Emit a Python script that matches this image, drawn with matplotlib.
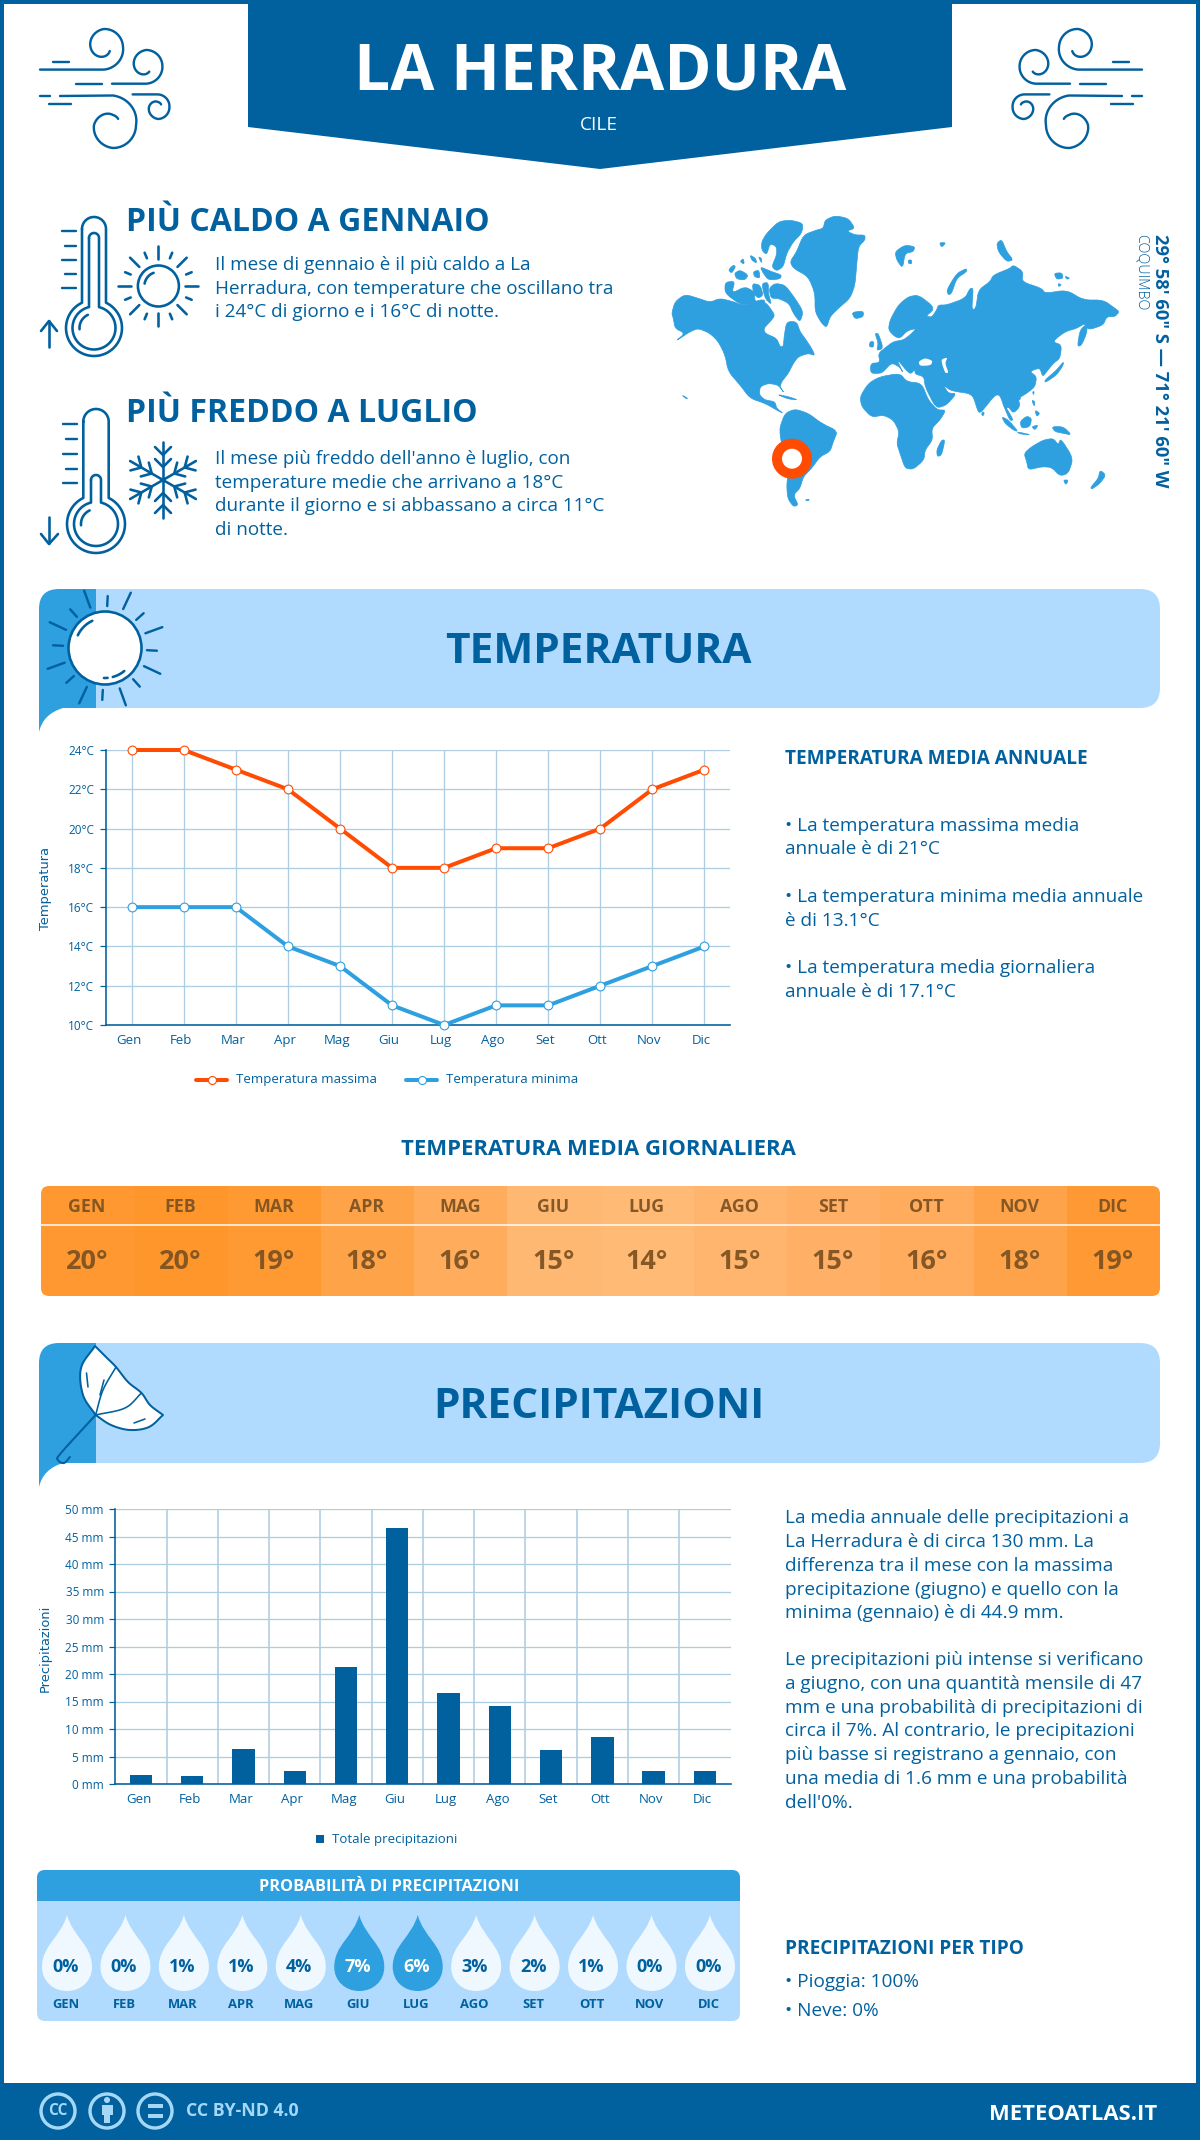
import numpy as np
import matplotlib
matplotlib.use("Agg")
import matplotlib.pyplot as plt
from matplotlib.path import Path
from matplotlib.patches import PathPatch, Polygon, Rectangle, FancyBboxPatch, Circle
from matplotlib.transforms import ScaledTranslation

# ---------- data ----------
months = ["Gen","Feb","Mar","Apr","Mag","Giu","Lug","Ago","Set","Ott","Nov","Dic"]
temp_max = [24,24,23,22,20,18,18,19,19,20,22,23]
temp_min = [16,16,16,14,13,11,10,11,11,12,13,14]
temp_avg = [20,20,19,18,16,15,14,15,15,16,18,19]
temp_ticks = [10,12,14,16,18,20,22,24]
precip = [1.6,1.5,6.4,2.4,21.3,46.5,16.6,14.2,6.2,8.6,2.4,2.4]
precip_ticks = [0,5,10,15,20,25,30,35,40,45,50]
prob = [0,0,1,1,4,7,6,3,2,1,0,0]
heat_colors = ["#FF9830","#FF962C","#FF9A33","#FFA348","#FFAD5C","#FFB871",
               "#FFBA75","#FFB56D","#FFB066","#FFAC5E","#FFA34A","#FF9933"]

DARK = "#01609E"; MID = "#2E9FDF"; LIGHT = "#B0DBFF"; OR = "#FF4C02"; GRID = "#AECCE2"
FONT = "Open Sans"
plt.rcParams["font.family"] = [FONT, "DejaVu Sans"]

W, H = 1200, 2140
fig = plt.figure(figsize=(W/100, H/100), dpi=100, facecolor="white")
bg = fig.add_axes([0,0,1,1]); bg.set_xlim(0,W); bg.set_ylim(H,0); bg.axis("off")
P = lambda px: px*0.72

def T(x,y,s,px,weight="normal",color=DARK,ha="left",va="baseline",**kw):
    return bg.text(x,y,s,fontsize=P(px),fontweight=weight,color=color,ha=ha,va=va,**kw)

def smooth(pts,n=14):
    p=np.array(pts,float)
    q=np.vstack([2*p[0]-p[1],p,2*p[-1]-p[-2]])
    out=[]
    for i in range(1,len(q)-2):
        for t in np.linspace(0,1,n,endpoint=False):
            a,b,c,d=q[i-1],q[i],q[i+1],q[i+2]
            out.append(0.5*((2*b)+(-a+c)*t+(2*a-5*b+4*c-d)*t**2+(-a+3*b-3*c+d)*t**3))
    out.append(q[-2]); return np.array(out)
def chaikin(pts,it=2):
    p=np.array(pts,float)
    for _ in range(it):
        n=np.roll(p,-1,axis=0)
        p=np.column_stack([0.8*p+0.2*n,0.2*p+0.8*n]).reshape(-1,2)
    return p
def L(xy,lw=2.6,color=DARK,**kw):
    xy=np.array(xy); bg.plot(xy[:,0],xy[:,1],color=color,lw=P(lw),solid_capstyle="round",solid_joinstyle="round",**kw)
def arc(cx,cy,r,a0,a1,n=60):
    a=np.radians(np.linspace(a0,a1,n)); return np.c_[cx+r*np.cos(a),cy+r*np.sin(a)]
def spiral(cx,cy,angs,rads,n=120):
    a=np.linspace(angs[0],angs[-1],n); r=np.interp(a,angs,rads) if angs[0]<angs[-1] else np.interp(-a,[-v for v in angs],rads)
    t=np.radians(a); return np.c_[cx+r*np.cos(t),cy+r*np.sin(t)]

# ---------- frame / header ----------
bg.add_patch(Rectangle((0,0),W,H,fc="white",ec="none"))
for r in [(0,0,W,4),(0,0,4,H),(W-4,0,4,H)]:
    bg.add_patch(Rectangle(r[:2],r[2],r[3],fc=DARK,ec="none"))
bg.add_patch(Polygon([(248,0),(952,0),(952,127),(600,169),(248,127)],fc=DARK,ec="none"))
T(600,89,"LA HERRADURA",64,"bold","white",ha="center")
T(599,130,"CILE",19,"normal","white",ha="center")
bg.add_patch(Rectangle((0,2083),W,57,fc=DARK,ec="none"))

# ---------- wind icons ----------
wind=[
 np.vstack([[(40,69.6)],spiral(104,47,[90,0,-90,-180,-270,-325],[22.6,19,18,13.5,9.5,7])]),
 np.vstack([[(112,83.7)],spiral(146,66,[90,0,-90,-180,-270,-300],[17.7,16.4,16,12,8,6.5])]),
 np.vstack([[(60,96)],spiral(113,125,[-90,0,90,180,270,310],[29.5,23,23,19,10,8])]),
 np.vstack([[(132.6,94.4)],spiral(158,107,[-90,0,90,180,270,320],[12.6,11.4,12,9,5,4])]),
]
dashes=[[(53,62),(69,62)],[(76,83.7),(102,83.7)],[(40,96),(50,96)],[(49,104.4),(71,104.4)]]
for mirror in (False,True):
    for c in wind+dashes:
        s=np.array(c)
        if mirror: s=np.c_[1182-s[:,0],s[:,1]]
        L(s,2.4)

# ---------- thermometers ----------
def thermo(cx,cy,R,hw,top,ri,hwi,topi):
    a=np.degrees(np.arcsin(hw/R))
    o=np.vstack([arc(cx,top+hw,hw,180,360),arc(cx,cy,R,-90+a,270-a)])
    L(np.vstack([o,o[0]]),2.6)
    a=np.degrees(np.arcsin(hwi/ri))
    o=np.vstack([arc(cx,topi+hwi,hwi,180,360),arc(cx,cy,ri,-90+a,270-a)])
    L(np.vstack([o,o[0]]),2.6)
    L(arc(cx,cy,ri-7,175,245,20),2.6)
thermo(94,328,28,12,217,21.5,5,233)
thermo(96,524,29,12.7,409,22,5,475)
for i,y in enumerate([231,245.5,260,274,288]):
    L([(62 if i%2==0 else 65,y),(75.5,y)],2.4)
for i,y in enumerate([424,439,454,468.5,483]):
    L([(63 if i%2==0 else 66,y),(77,y)],2.4)
L([(49,347),(49,321)]); L([(41,331),(49,321),(57,331)])
L([(49,517),(49,543)]); L([(41,534),(49,544),(58,534)])

# small sun
cx,cy=158.4,286
bg.add_patch(Circle((cx,cy),20.5,fc="none",ec=DARK,lw=P(2.6)))
L(arc(cx,cy,14,190,250,20))
for k in range(16):
    a=np.radians(k*22.5)
    r0,r1=(27,40) if k%2==0 else (30,36)
    L([(cx+r0*np.cos(a),cy+r0*np.sin(a)),(cx+r1*np.cos(a),cy+r1*np.sin(a))])

# snowflake
cx,cy=163,480
c0=np.array([cx,cy])
for k in range(6):
    a=np.radians(90+k*60); u=np.array([np.cos(a),np.sin(a)]); v=np.array([-u[1],u[0]])
    L([c0,c0+38*u])
    for d,w in [(13,8),(25,8)]:
        L([c0+(d+w)*u+w*v,c0+d*u,c0+(d+w)*u-w*v])

T(126.5,231,"PIÙ CALDO A GENNAIO",32,"bold")
T(126.5,422,"PIÙ FREDDO A LUGLIO",32,"bold")
body1=["Il mese di gennaio è il più caldo a La","Herradura, con temperature che oscillano tra","i 24°C di giorno e i 16°C di notte."]
for y,s in zip([270,293.5,317],body1): T(215,y,s,18.85)
body2=["Il mese più freddo dell'anno è luglio, con","temperature medie che arrivano a 18°C","durante il giorno e si abbassano a circa 11°C","di notte."]
for y,s in zip([464,487.5,511,535],body2): T(215,y,s,18.85)

# ---------- world map ----------
west=[
 [(20,325),(30,290),(60,268),(100,280),(135,292),(165,280),(205,290),(230,300),(265,300),(290,290),(305,295),(330,330),(320,345),(296,370),(300,385),(335,400),(345,425),(355,425),(358,390),(365,350),(395,350),(405,380),(420,400),(440,430),(450,452),(430,445),(400,455),(385,475),(370,505),(350,530),(345,545),(358,565),(340,540),(310,535),(285,545),(283,570),(300,585),(330,590),(335,610),(355,625),(340,618),(300,595),(255,580),(225,540),(190,500),(180,450),(160,410),(135,385),(100,370),(75,380),(30,410),(60,385),(30,370),(25,340)],
 [(305,85),(340,50),(375,45),(415,55),(410,85),(385,110),(365,145),(355,185),(335,198),(320,185),(335,150),(335,125),(315,115),(305,150),(290,135),(290,110)],
 [(375,170),(395,140),(415,90),(455,75),(475,70),(480,45),(510,32),(550,40),(570,70),(545,78),(570,90),(600,90),(600,105),(580,125),(575,180),(570,240),(555,280),(520,310),(495,335),(485,368),(470,355),(450,320),(450,265),(430,215),(385,190)],
 [(560,322),(595,318),(595,335),(570,342)],
 [(190,195),(205,180),(212,185),(200,205)],
 [(208,205),(225,195),(250,210),(240,225),(215,222)],
 [(255,150),(272,160),(275,175),(260,165)],
 [(225,170),(235,160),(238,178)],
 [(280,155),(290,160),(290,175)],
 [(265,200),(282,195),(285,220),(268,215)],
 [(285,185),(320,200),(350,210),(345,222),(310,225),(295,205)],
 [(180,232),(210,228),(200,265),(240,245),(268,260),(270,290),(285,285),(300,285),(295,305),(260,300),(225,298),(180,265)],
 [(262,235),(285,240),(295,270),(280,280),(265,265)],
 [(290,235),(310,232),(310,265),(320,300),(300,280)],
 [(312,250),(330,235),(360,240),(390,280),(415,320),(405,352),(385,325),(372,295),(340,280),(318,280)],
 [(345,665),(360,625),(390,612),(430,625),(470,655),(518,678),(505,710),(495,740),(465,755),(440,790),(415,815),(405,850),(385,870),(400,900),(385,905),(368,880),(365,840),(370,800),(360,770),(345,690)],
 [(420,885),(433,882),(430,888)],
 [(335,568),(370,575),(400,585),(370,582)],
 [(50,570),(68,580),(65,582)],
]
east=[
 [(62,400),(90,398),(85,370),(110,350),(130,335),(160,330),(180,315),(200,295),(172,302),(150,325),(135,320),(115,300),(120,270),(145,225),(175,200),(205,195),(245,225),(250,240),(228,258),(245,262),(260,240),(265,225),(290,225),(345,205),(360,175),(370,175),(365,240),(378,235),(385,180),(420,155),(430,135),(480,115),(490,105),(520,125),(515,155),(575,175),(585,190),(650,180),(700,210),(760,210),(795,235),(808,245),(795,260),(770,260),(760,285),(715,300),(705,280),(680,295),(645,305),(607,335),(635,345),(630,385),(610,400),(590,425),(578,440),(570,415),(555,418),(540,425),(560,440),(555,470),(530,490),(505,505),(510,530),(490,550),(475,530),(465,540),(450,495),(435,495),(395,545),(385,548),(370,500),(355,490),(320,485),(300,480),(280,465),(295,490),(320,490),(290,525),(258,535),(225,470),(222,440),(195,432),(195,418),(182,432),(168,420),(148,395),(142,392),(160,430),(150,412),(125,398),(100,425),(90,430),(62,430)],
 [(30,500),(55,460),(90,440),(150,430),(170,455),(215,460),(235,510),(262,540),(288,540),(270,570),(245,595),(248,630),(225,660),(222,690),(190,718),(165,715),(150,670),(140,640),(148,605),(130,570),(100,555),(65,562),(35,530)],
 [(275,630),(285,630),(275,675),(262,680),(260,660)],
 [(75,310),(85,310),(100,355),(80,362),(85,340)],
 [(60,335),(72,335),(70,352),(58,350)],
 [(135,65),(165,45),(195,50),(190,65),(165,70),(158,115),(140,90)],
 [(175,90),(185,90),(185,102),(175,100)],
 [(268,38),(288,38),(275,52)],
 [(440,40),(455,28),(470,65),(490,90),(470,95),(445,65)],
 [(612,130),(635,128),(640,145),(620,148)],
 [(645,138),(660,145),(650,148)],
 [(625,160),(635,165),(625,170)],
 [(290,180),(320,130),(350,115),(350,125),(320,145),(305,190),(295,195)],
 [(712,280),(690,300),(682,350),(695,345),(710,310)],
 [(640,395),(620,420),(585,450),(585,458),(620,435),(640,405)],
 [(455,560),(475,570),(505,605),(490,600),(465,580)],
 [(500,605),(545,615),(510,612)],
 [(510,575),(530,558),(545,565),(540,590),(515,595)],
 [(545,590),(565,585),(555,600)],
 [(605,590),(640,590),(665,615),(640,610),(615,605)],
 [(545,510),(555,515),(553,530)],
 [(555,540),(570,550),(560,560)],
 [(397,545),(403,548),(400,557),(395,555)],
 [(462,530),(470,535),(490,570),(480,572)],
 [(548,485),(553,485),(550,495)],
 [(505,503),(512,505),(508,510)],
 [(522,670),(545,650),(580,630),(610,625),(625,645),(632,625),(670,685),(655,730),(630,738),(605,712),(575,710),(535,720),(530,695)],
 [(640,750),(655,750),(648,765)],
 [(750,720),(768,735),(750,760),(725,778),(722,772),(745,745)],
]
seas=[
 [(205,395),(225,384),(248,392),(243,406),(210,408)],
 [(274,388),(293,382),(285,400),(296,428),(286,430),(277,405)],
]
for l in west:
    bg.add_patch(Polygon(chaikin([(665+x/3,205+y/3) for x,y in l]),fc=MID,ec=MID,lw=0.5))
for l in east:
    bg.add_patch(Polygon(chaikin([(850+x/3,230+y/3) for x,y in l]),fc=MID,ec=MID,lw=0.5))
for l in seas:
    bg.add_patch(Polygon(chaikin([(850+x/3,230+y/3) for x,y in l]),fc="white",ec="none"))
bg.add_patch(Circle((792,458.7),15,fc="white",ec=OR,lw=P(10)))
T(1160,234.5,"29° 58' 60\" S — 71° 21' 60\" W",18.4,"bold",ha="center",va="top",rotation=-90)
T(1141,234.5,"COQUIMBO",14.3,"light",ha="center",va="top",rotation=-90)

# ---------- banners ----------
def banner(y0,y1,tail):
    x0,x1,xt,r=39,1160,96,20
    verts=[(xt,y0),(x1-r,y0),(x1,y0),(x1,y0+r),(x1,y1-r),(x1,y1),(x1-r,y1),(xt,y1),(xt,y0)]
    codes=[1,2,3,3,2,3,3,2,2]
    bg.add_patch(PathPatch(Path(verts,codes),fc=LIGHT,ec="none"))
    verts=[(xt,y0),(x0+r,y0),(x0,y0),(x0,y0+r),(x0,tail),(x0+4,y1+6),(x0+24,y1),(xt,y1),(xt,y0)]
    codes=[1,2,3,3,2,3,3,2,2]
    bg.add_patch(PathPatch(Path(verts,codes),fc=MID,ec="none"))
banner(589,708,732); banner(1343,1463,1487)
T(598,663,"TEMPERATURA",42.4,"bold",ha="center")
T(599,1418,"PRECIPITAZIONI",42.4,"bold",ha="center")

# big sun
cx,cy=105,648
bg.add_patch(Circle((cx,cy),36.5,fc="white",ec=DARK,lw=P(2.6),zorder=5))
L(arc(cx,cy,30,205,245,12),2.6,zorder=6); L(arc(cx,cy,30,50,75,10),2.6,zorder=6); L(arc(cx,cy,30,85,92,4),2.6,zorder=6)
for k in range(8):
    a=np.radians(-90+25+45*k); b=np.radians(-90+3+45*k)
    L([(cx+43*np.cos(a),cy+43*np.sin(a)),(cx+61*np.cos(a),cy+61*np.sin(a))],2.4,zorder=6)
    L([(cx+42*np.cos(b),cy+42*np.sin(b)),(cx+52*np.cos(b),cy+52*np.sin(b))],2.4,zorder=6)

# umbrella
right_edge=smooth([(95,1346),(107,1358),(116,1367),(128,1382),(141.5,1393),(150,1405),(163,1415)],6)
bottom=smooth([(163,1415),(149,1427),(130,1430),(111,1425),(95.6,1415)],8)
left=smooth([(95.6,1415),(83,1395),(81,1368),(95,1346)],8)
bg.add_patch(Polygon(np.vstack([right_edge,bottom,left]),fc="white",ec=DARK,lw=P(2),joinstyle="round"))
L(smooth([(116,1367),(103,1390),(95.6,1415)]),1.6)
L(smooth([(141.5,1393),(125,1408),(95.6,1415)]),1.6)
L(smooth([(95.6,1415),(61,1453),(58,1460),(64,1463),(70,1457)]),2)
L([(86.5,1373),(88,1387)],1.6); L([(134,1423),(145,1419)],1.6); L([(100,1395),(104,1380)],1.6)

# ---------- charts ----------
def chart_ax(l,t,r,b):
    ax=fig.add_axes([l/W,1-b/H,(r-l)/W,(b-t)/H]); ax.patch.set_alpha(0)
    for s in ("top","right"): ax.spines[s].set_visible(False)
    for s in ("left","bottom"): ax.spines[s].set_color(DARK); ax.spines[s].set_linewidth(P(1.6))
    ax.tick_params(axis="y",length=P(6.5),width=P(1.2),color=DARK,labelcolor=DARK,labelsize=P(11.8),pad=P(5))
    ax.tick_params(axis="x",length=0,labelcolor=DARK,labelsize=P(13.3),pad=P(9))
    ax.set_axisbelow(True); ax.grid(True,color=GRID,lw=P(1.3))
    return ax
def shift_x(ax,dx):
    for lab in ax.get_xticklabels():
        lab.set_transform(lab.get_transform()+ScaledTranslation(dx/100,0,fig.dpi_scale_trans))
ax=chart_ax(105.7,750,730.5,1025)
x=np.arange(12)
ax.set_xlim(-.5,11.5); ax.set_ylim(10,24)
ax.set_yticks(temp_ticks); ax.set_yticklabels([f"{v}°C" for v in temp_ticks])
ax.set_xticks(x); ax.set_xticklabels(months); shift_x(ax,-3)
mk=dict(marker="o",ms=P(8.8),mfc="white",mew=P(1.1),lw=P(4),clip_on=False,solid_joinstyle="round")
ax.plot(x,temp_max,color=OR,mec=OR,zorder=4,**mk)
ax.plot(x,temp_min,color=MID,mec=MID,zorder=4,**mk)
T(45,889,"Temperatura",13,family="DejaVu Sans",ha="center",va="center",rotation=90)
for x0,x1,c,tx,s in [(196,227,OR,236,"Temperatura massima"),(406,437,MID,446,"Temperatura minima")]:
    L([(x0,1080),(x1,1080)],4,c)
    bg.plot([(x0+x1)/2],[1080],marker="o",ms=P(8),mfc="white",mec=c,mew=P(1.1))
    T(tx,1080,s,13.3,va="center")

# ---------- daily table ----------
x0,x1,y0,y1=41,1160,1186,1296; cw=(x1-x0)/12
clip=FancyBboxPatch((x0+6,y0+6),x1-x0-12,y1-y0-12,boxstyle="round,pad=6,rounding_size=8",fc="none",ec="none")
bg.add_patch(clip)
for i,(m,v,c) in enumerate(zip(months,temp_avg,heat_colors)):
    r=Rectangle((x0+i*cw,y0),cw+0.5,y1-y0,fc=c,ec="none"); bg.add_patch(r); r.set_clip_path(clip)
    T(x0+(i+.5)*cw-.5,1207,m.upper(),17.8,"bold","#7F5322",ha="center",va="center",alpha=.95)
    T(x0+(i+.5)*cw-.5,1262,f"{v}°",27,"bold","#7F5322",ha="center",va="center",alpha=.95)
L([(x0,1225),(x1,1225)],1.5,"white")
T(598,1155,"TEMPERATURA MEDIA GIORNALIERA",22.15,"bold",ha="center")

# ---------- right-hand text ----------
T(785,764,"TEMPERATURA MEDIA ANNUALE",19,"bold")
for y,s in zip([831,854,902,926,973,997],["• La temperatura massima media","annuale è di 21°C","• La temperatura minima media annuale","è di 13.1°C","• La temperatura media giornaliera","annuale è di 17.1°C"]):
    T(785,y,s,19)
para=["La media annuale delle precipitazioni a","La Herradura è di circa 130 mm. La","differenza tra il mese con la massima","precipitazione (giugno) e quello con la","minima (gennaio) è di 44.9 mm.",
"Le precipitazioni più intense si verificano","a giugno, con una quantità mensile di 47","mm e una probabilità di precipitazioni di","circa il 7%. Al contrario, le precipitazioni","più basse si registrano a gennaio, con","una media di 1.6 mm e una probabilità","dell'0%."]
for y,s in zip([1523,1547,1571,1595,1618,1665,1689,1713,1736,1760,1784,1808],para): T(785,y,s,19)
T(785,1954,"PRECIPITAZIONI PER TIPO",19,"bold")
T(785,1987,"• Pioggia: 100%",19); T(785,2016,"• Neve: 0%",19)

# ---------- precipitation chart ----------
ax2=chart_ax(115.4,1509,730.5,1784)
ax2.set_xlim(-.5,11.5); ax2.set_ylim(0,50)
ax2.set_yticks(precip_ticks); ax2.set_yticklabels([f"{v} mm" for v in precip_ticks])
ax2.set_xticks(x); ax2.set_xticklabels(months); shift_x(ax2,-2.5)
ax2.xaxis.grid(False)
for v in x[:-1]+.5: ax2.axvline(v,color=GRID,lw=P(1.6),zorder=0)
ax2.bar(x,precip,width=.435,color=DARK,zorder=3)
T(45,1648,"Precipitazioni",13,family="DejaVu Sans",ha="center",va="center",rotation=90)
bg.add_patch(Rectangle((316,1835),8,8,fc=DARK,ec="none"))
T(332,1839,"Totale precipitazioni",13.3,va="center")

# ---------- probability panel ----------
px0,px1,py0,py1,ph=37,740,1870,2021,1901
bg.add_patch(FancyBboxPatch((px0+8,py0+8),px1-px0-16,py1-py0-16,boxstyle="round,pad=8,rounding_size=8",fc=LIGHT,ec="none"))
clip2=FancyBboxPatch((px0+8,py0+8),px1-px0-16,py1-py0-16,boxstyle="round,pad=8,rounding_size=8",fc="none",ec="none")
bg.add_patch(clip2)
hd=Rectangle((px0,py0),px1-px0,ph-py0,fc=MID,ec="none"); bg.add_patch(hd); hd.set_clip_path(clip2)
T(389,1887,"PROBABILITÀ DI PRECIPITAZIONI",16.2,"bold","white",ha="center",va="center")
def drop(cx,c):
    t,m,b,w=1915,1967,1991,25
    v=[(cx,t),(cx+6,t+22),(cx+w,m-22),(cx+w,m),(cx+w,m+14),(cx+14,b),(cx,b),(cx-14,b),(cx-w,m+14),(cx-w,m),(cx-w,m-22),(cx-6,t+22),(cx,t)]
    bg.add_patch(PathPatch(Path(v,[1]+[4]*12),fc=c,ec="none"))
for i,(m,p) in enumerate(zip(months,prob)):
    cx=67+i*58.45
    hi=p>=5
    drop(cx,MID if hi else "#EFF8FF")
    T(cx-1.5,1967,f"{p}%",18,"bold","white" if hi else DARK,ha="center",va="center")
    T(cx-1.5,2005,m.upper(),13,"bold",ha="center",va="center")

# ---------- footer ----------
FL="#A5D8F7"
for c in (58,107,155):
    bg.add_patch(Circle((c,2111),17,fc="none",ec=FL,lw=P(3.4)))
T(58,2111,"CC",15.5,"bold",FL,ha="center",va="center")
bg.add_patch(Circle((107,2100),3,fc=FL,ec="none"))
bg.add_patch(Rectangle((101.5,2105),11,10,fc=FL,ec="none")); bg.add_patch(Rectangle((104,2113),6,10,fc=FL,ec="none"))
bg.add_patch(Rectangle((147.5,2104),15,4.2,fc=FL,ec="none")); bg.add_patch(Rectangle((147.5,2113.5),15,4.2,fc=FL,ec="none"))
T(186,2111,"CC BY-ND 4.0",17.7,"bold",FL,va="center")
T(989,2120,"METEOATLAS.IT",22,"bold","white")

fig.savefig("out.png",dpi=100)
